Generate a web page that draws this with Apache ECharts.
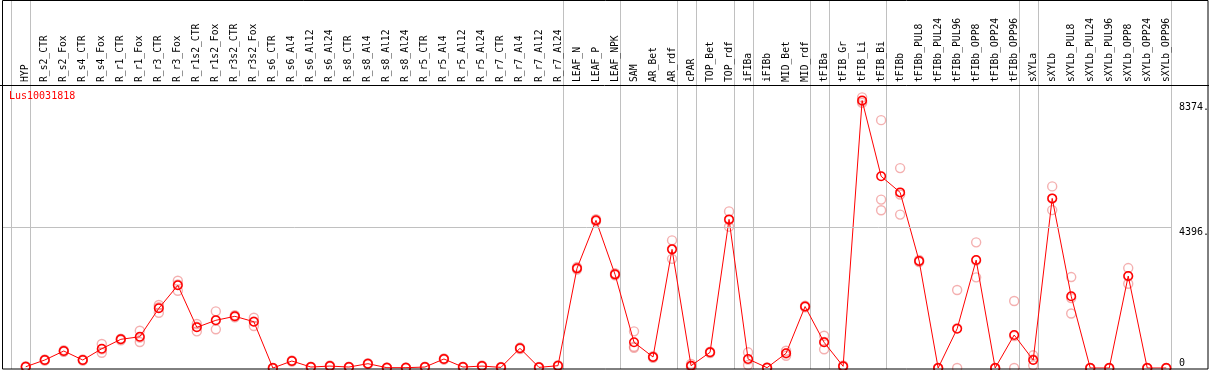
<!DOCTYPE html>
<html><head><meta charset="utf-8">
<script src="https://cdn.jsdelivr.net/npm/echarts@6/dist/echarts.min.js"></script>
<style>html,body{margin:0;padding:0;background:#fff}#c{width:1209px;height:370px}</style>
</head><body><div id="c"></div>
<script>
const geneName = 'Lus10031818';
const categories = ['HYP','R_s2_CTR','R_s2_Fox','R_s4_CTR','R_s4_Fox','R_r1_CTR','R_r1_Fox','R_r3_CTR','R_r3_Fox','R_r1s2_CTR','R_r1s2_Fox','R_r3s2_CTR','R_r3s2_Fox','R_s6_CTR','R_s6_Al4','R_s6_Al12','R_s6_Al24','R_s8_CTR','R_s8_Al4','R_s8_Al12','R_s8_Al24','R_r5_CTR','R_r5_Al4','R_r5_Al12','R_r5_Al24','R_r7_CTR','R_r7_Al4','R_r7_Al12','R_r7_Al24','LEAF_N','LEAF_P','LEAF_NPK','SAM','AR_Bet','AR_rdf','cPAR','TOP_Bet','TOP_rdf','iFIBa','iFIBb','MID_Bet','MID_rdf','tFIBa','tFIB_Gr','tFIB_Li','tFIB_Bi','tFIBb','tFIBb_PUL8','tFIBb_PUL24','tFIBb_PUL96','tFIBb_OPP8','tFIBb_OPP24','tFIBb_OPP96','sXYLa','sXYLb','sXYLb_PUL8','sXYLb_PUL24','sXYLb_PUL96','sXYLb_OPP8','sXYLb_OPP24','sXYLb_OPP96'];
const meanValues = [40,250,532,250,604,898,979,1868,2588,1273,1493,1618,1449,0,219,30,60,30,135,10,10,30,282,30,60,20,616,20,72,3120,4622,2932,804,344,3714,72,491,4653,282,10,460,1924,804,53,8374,6002,5498,3348,0,1230,3379,0,1033,250,5310,2247,0,0,2879,0,0];
const repHigh = [60,270,560,270,751,920,1167,1971,2732,1377,1774,1650,1574,0,240,40,80,40,150,20,20,40,300,40,80,30,640,30,90,3160,4660,2970,1148,370,3996,125,510,4903,491,20,541,1950,1011,80,8473,7760,6258,3380,0,2441,3933,0,2096,397,5685,2847,0,0,3129,0,0];
const repMid = [30,250,526,245,582,904,956,1903,2613,1294,1494,1618,1459,0,217,30,60,30,135,10,10,30,286,30,60,20,618,20,66,3120,4616,2926,667,342,3729,61,493,4632,261,10,454,1922,816,49,8349,5272,5433,3347,0,1249,3366,0,1003,269,5301,2189,0,0,2870,0,0];
const repLow = [30,230,510,235,479,870,814,1730,2419,1148,1211,1586,1314,0,200,20,40,20,120,0,0,20,260,20,40,10,590,10,60,3080,4590,2900,632,320,3417,30,470,4424,94,0,385,1900,585,30,8300,4938,4803,3317,0,0,2838,0,0,84,4944,1705,0,0,2638,0,0];
const yTickLabels = [0, 4396];
const peakLabel = 8374;
const groupEnds = ['HYP','R_r7_Al24','LEAF_NPK','AR_rdf','cPAR','TOP_rdf','iFIBa','MID_rdf','tFIBa','tFIB_Bi','tFIBb_OPP96','sXYLa','sXYLb_OPP96'];

const mono = 'DejaVu Sans Mono';
const Y_MAX = 8860;
const chart = echarts.init(document.getElementById('c'), null, {renderer: 'canvas'});

const meanData = meanValues.map((v, i) => [i, v]);
const repData = [];
[repHigh, repMid, repLow].forEach(arr => arr.forEach((v, i) => repData.push([i, v])));

const baseY = {type: 'value', position: 'right', min: 0, max: Y_MAX,
  axisLine: {show: false}, axisTick: {show: false}, splitLine: {show: false}};

chart.setOption({
  animation: false,
  backgroundColor: '#fff',
  title: {text: geneName, left: 9, top: 91, padding: 0,
    textStyle: {color: '#ff0000', fontFamily: mono, fontSize: 10, fontWeight: 'normal'}},
  grid: {left: 2, right: 38, top: 85, bottom: 2, outerBoundsMode: 'none'},
  xAxis: [{
    type: 'value', position: 'top', min: -1.25, max: 60.25,
    axisLine: {show: false}, axisTick: {show: false}, splitLine: {show: false},
    axisLabel: {customValues: categories.map((_, i) => i),
      formatter: v => categories[Math.round(v)] || '',
      rotate: 90, margin: 3, fontFamily: mono, fontSize: 9.7, color: '#000'}
  }],
  yAxis: [
    Object.assign({}, baseY, {interval: yTickLabels[1],
      axisLabel: {margin: 8, verticalAlign: 'top', fontFamily: mono, fontSize: 10, color: '#000',
        formatter: v => v === yTickLabels[1] ? v + '.' : ''}}),
    Object.assign({}, baseY, {interval: peakLabel,
      axisLabel: {margin: 8, verticalAlign: 'top', padding: [2, 0, 0, 0], fontFamily: mono, fontSize: 10, color: '#000',
        formatter: v => v === peakLabel ? v + '.' : ''}}),
    Object.assign({}, baseY, {interval: yTickLabels[1],
      axisLabel: {margin: 8, verticalAlign: 'bottom', fontFamily: mono, fontSize: 10, color: '#000',
        formatter: v => v === yTickLabels[0] ? String(v) : ''}})
  ],
  series: [
    {type: 'scatter', data: repData, symbol: 'circle', symbolSize: 9, z: 2,
      itemStyle: {color: 'rgba(0,0,0,0)', borderColor: 'rgba(232,90,90,0.6)', borderWidth: 1.4},
      emphasis: {disabled: true}},
    {type: 'line', data: meanData, symbol: 'circle', symbolSize: 8.5, z: 3,
      lineStyle: {color: '#ff0000', width: 1},
      itemStyle: {color: 'rgba(0,0,0,0)', borderColor: '#ff0000', borderWidth: 1.5},
      emphasis: {disabled: true},
      markLine: {silent: true, symbol: 'none', label: {show: false},
        lineStyle: {color: '#c0c0c0', type: 'solid', width: 1},
        data: [{yAxis: yTickLabels[1]}]}}
  ]
});

// frame, header line and group separators (positions from the x scale)
const g = [];
const sepX = groupEnds.map(n => chart.convertToPixel({xAxisIndex: 0}, categories.indexOf(n) + 0.245));
sepX.push(chart.convertToPixel({xAxisIndex: 0}, -0.79));
sepX.forEach(x => {
  const xx = Math.round(x) + 0.5;
  g.push({type: 'line', z: 0, shape: {x1: xx, y1: 0, x2: xx, y2: 369}, style: {stroke: '#c0c0c0', lineWidth: 1}});
});
g.push({type: 'line', z: 10, shape: {x1: 0, y1: 85.5, x2: 1209, y2: 85.5}, style: {stroke: '#000', lineWidth: 1}});
g.push({type: 'rect', z: 10, shape: {x: 2.5, y: 0.5, width: 1205.5, height: 368.5}, style: {fill: 'none', stroke: '#000', lineWidth: 1}});
chart.setOption({graphic: g});
</script>
</body></html>
